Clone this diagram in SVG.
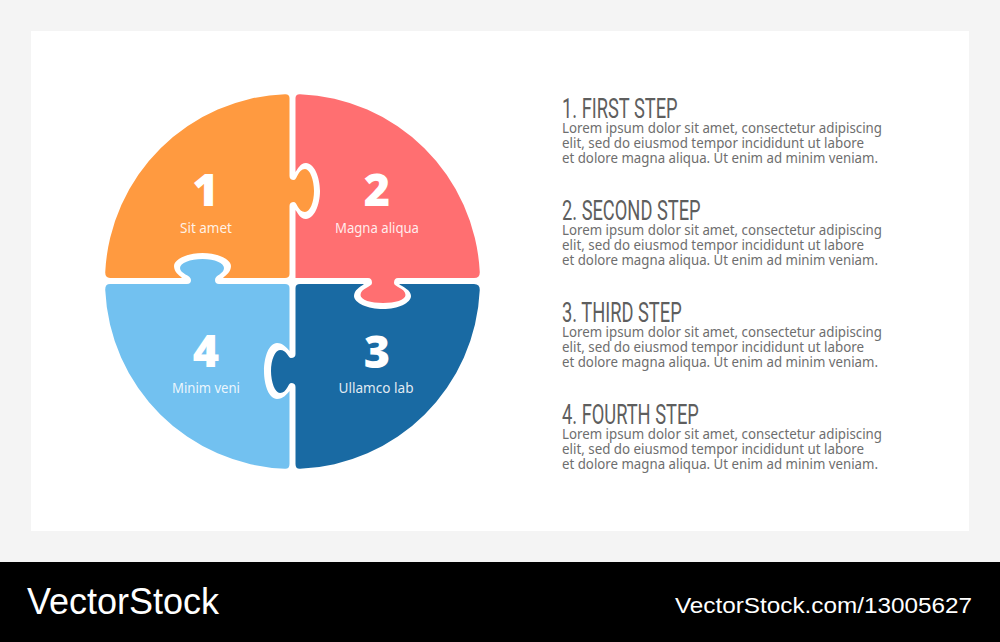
<svg xmlns="http://www.w3.org/2000/svg" width="1000" height="642" viewBox="0 0 1000 642">
<style>
.num{font-family:"Open Sans","Noto Sans",sans-serif;font-weight:800;font-size:45px;fill:#fff;text-anchor:middle}
.lab{font-family:"Noto Sans",sans-serif;font-size:13.5px;fill:#fff;fill-opacity:.88;text-anchor:middle}
.head{font-family:Roboto,"Liberation Sans",sans-serif;font-size:27.5px;fill:#5e5e5e}
.body{font-family:"Noto Sans",sans-serif;font-size:14px;fill:#6e6e6e}
.mark{font-family:"Liberation Sans",Arial,sans-serif;fill:#fff}
</style>
<rect width="1000" height="642" fill="#f4f4f4"/>
<rect x="31" y="31" width="938" height="500" fill="#fff"/>
<rect x="0" y="562" width="1000" height="80" fill="#000"/>
<g id="node-1">
<path fill="#ff9a40" d="M105.24,272 A187.5,187.5 0 0 1 285,94.15 Q289.5,94 289.5,98 V176 Q289.5,180 294,180 C297,180 298,169 305,169 C310,169 314,180 314,191 C314,202 310,212 305,212 C298,212 297,202 294,202 Q289.5,202 289.5,206 V274 Q289.5,278 285,278 H223 C226,275 231,272 231,266 C231,259 217,253 202.5,253 C188,253 174,259 174,266 C174,272 179,275 182,278 H110 Q105,278 105.24,272 Z"/>
<text class="num" x="205.5" y="206">1</text>
<text class="lab" x="206" y="232.5" textLength="52" lengthAdjust="spacingAndGlyphs">Sit amet</text>
</g>
<g id="node-2">
<path fill="#ff6f71" d="M300,94.15 A187.5,187.5 0 0 1 479.76,272 Q480,278 474,278 H398 Q394,278 394,283 C394,287 405.5,288 405.5,295 C405.5,300 395,303 383,303 C371,303 360.5,300 360.5,295 C360.5,288 372,287 372,283 Q372,278 368,278 H295.5 V210 C298,213 300,219 306,219 C314,219 320,205 320,191 C320,177 314,163 306,163 C300,163 298,169 295.5,172 V98 Q295.5,94 300,94.15 Z"/>
<text class="num" x="377" y="206">2</text>
<text class="lab" x="377" y="232.5" textLength="84" lengthAdjust="spacingAndGlyphs">Magna aliqua</text>
</g>
<g id="node-3">
<path fill="#196aa3" d="M300,284 H364 C360,287 354,290 354,296 C354,303 368,309 383,309 C398,309 411,303 411,296 C411,290 403,287 399,284 H474 Q480,284 479.76,290 A187.5,187.5 0 0 1 300,468.85 Q295.5,469 295.5,464 V387 Q295.5,383 291,383 C288,383 287,393 280,393 C275,393 271,382 271,371 C271,360 275,350 280,350 C287,350 288,358 291,358 Q295.5,358 295.5,354 V288 Q295.5,284 300,284 Z"/>
<text class="num" x="377" y="368">3</text>
<text class="lab" x="376" y="392.5" textLength="75" lengthAdjust="spacingAndGlyphs">Ullamco lab</text>
</g>
<g id="node-4">
<path fill="#72c1f0" d="M110,284 H187 Q191,284 191,280 C191,275 180,274 180,268 C180,263 190,259 202.5,259 C215,259 224,263 224,268 C224,274 215,275 215,280 Q215,284 219,284 H285 Q289.5,284 289.5,288 V351 C287,348 283,343 277,343 C269,343 264,357 264,371 C264,385 269,399 277,399 C283,399 287,394 289.5,391 V464 Q289.5,469 285,468.85 A187.5,187.5 0 0 1 105.24,290 Q105,284 110,284 Z"/>
<text class="num" x="206" y="367">4</text>
<text class="lab" x="206" y="392.5" textLength="68" lengthAdjust="spacingAndGlyphs">Minim veni</text>
</g>
<g id="step-1">
<text class="head" transform="translate(562 118) scale(.665 1)">1. FIRST STEP</text>
<text class="body" x="562" y="132.7" textLength="320" lengthAdjust="spacingAndGlyphs">Lorem ipsum dolor sit amet, consectetur adipiscing</text>
<text class="body" x="562" y="147.7" textLength="302" lengthAdjust="spacingAndGlyphs">elit, sed do eiusmod tempor incididunt ut labore</text>
<text class="body" x="562" y="162.7" textLength="316" lengthAdjust="spacingAndGlyphs">et dolore magna aliqua. Ut enim ad minim veniam.</text>
</g>
<g id="step-2">
<text class="head" transform="translate(562 220) scale(.665 1)">2. SECOND STEP</text>
<text class="body" x="562" y="234.7" textLength="320" lengthAdjust="spacingAndGlyphs">Lorem ipsum dolor sit amet, consectetur adipiscing</text>
<text class="body" x="562" y="249.7" textLength="302" lengthAdjust="spacingAndGlyphs">elit, sed do eiusmod tempor incididunt ut labore</text>
<text class="body" x="562" y="264.7" textLength="316" lengthAdjust="spacingAndGlyphs">et dolore magna aliqua. Ut enim ad minim veniam.</text>
</g>
<g id="step-3">
<text class="head" transform="translate(562 322) scale(.665 1)">3. THIRD STEP</text>
<text class="body" x="562" y="336.7" textLength="320" lengthAdjust="spacingAndGlyphs">Lorem ipsum dolor sit amet, consectetur adipiscing</text>
<text class="body" x="562" y="351.7" textLength="302" lengthAdjust="spacingAndGlyphs">elit, sed do eiusmod tempor incididunt ut labore</text>
<text class="body" x="562" y="366.7" textLength="316" lengthAdjust="spacingAndGlyphs">et dolore magna aliqua. Ut enim ad minim veniam.</text>
</g>
<g id="step-4">
<text class="head" transform="translate(562 424) scale(.665 1)">4. FOURTH STEP</text>
<text class="body" x="562" y="438.7" textLength="320" lengthAdjust="spacingAndGlyphs">Lorem ipsum dolor sit amet, consectetur adipiscing</text>
<text class="body" x="562" y="453.7" textLength="302" lengthAdjust="spacingAndGlyphs">elit, sed do eiusmod tempor incididunt ut labore</text>
<text class="body" x="562" y="468.7" textLength="316" lengthAdjust="spacingAndGlyphs">et dolore magna aliqua. Ut enim ad minim veniam.</text>
</g>
<g id="watermark">
<text class="mark" x="27" y="614" font-size="36" textLength="192" lengthAdjust="spacingAndGlyphs">VectorStock</text>
<text class="mark" x="675" y="612.5" font-size="22.4" textLength="297" lengthAdjust="spacingAndGlyphs">VectorStock.com/13005627</text>
</g>
</svg>
